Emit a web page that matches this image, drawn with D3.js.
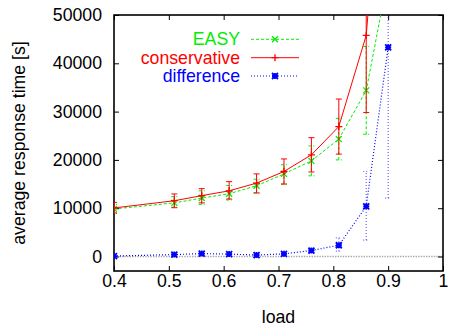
<!DOCTYPE html>
<html>
<head>
<meta charset="utf-8">
<script src="https://cdn.jsdelivr.net/npm/d3@7"></script>
<style>
  body { margin: 0; background: #fff; }
  svg text { font-family: "Liberation Sans", Arial, Helvetica, sans-serif; }
</style>
</head>
<body>
<svg id="chart" width="449" height="329"></svg>
<script>
// load values where the runs were measured
const loads = [0.40, 0.51, 0.56, 0.61, 0.66, 0.71, 0.76, 0.81, 0.86, 0.90];

// EASY backfilling
const easyMean = [9850, 11100, 12100, 13000, 14650, 17100, 19800, 24300, 34400, 58000];
const easyLow  = [8950, 10200, 10800, 11700, 13200, 15000, 16700, 20000, 25300, 51000];
const easyHigh = [10800, 12400, 13600, 14700, 16000, 19000, 22900, 28600, 43500, 65000];

// conservative backfilling
const consMean = [10050, 11550, 12600, 13600, 15200, 17600, 21050, 26900, 45800, 101000];
const consLow  = [9000, 10100, 11100, 11900, 13150, 15000, 17500, 21200, 29800, 75000];
const consHigh = [11200, 12950, 14050, 15500, 17100, 20200, 24600, 32600, 62000, 127000];

// difference between the two
const diffMean = [100, 400, 600, 500, 300, 550, 1240, 2330, 10400, 43300];
const diffLow  = [0, 200, 400, 300, 100, 300, 900, 1100, 3400, 12100];
const diffHigh = [200, 600, 800, 700, 500, 800, 1600, 3860, 17600, 75000];

const xTicks = [0.4, 0.5, 0.6, 0.7, 0.8, 0.9, 1.0];
const yTicks = [0, 10000, 20000, 30000, 40000, 50000];

const svg = d3.select("#chart");
const plot = { left: 114, right: 443, top: 15, bottom: 271 };

const x = d3.scaleLinear().domain([0.4, 1.0]).range([plot.left, plot.right]);
const y = d3.scaleLinear().domain([-3000, 50000]).range([plot.bottom, plot.top]);

const fontSize = 17.7;

svg.append("clipPath").attr("id", "clip")
    .append("rect")
    .attr("x", plot.left).attr("y", plot.top)
    .attr("width", plot.right - plot.left)
    .attr("height", plot.bottom - plot.top);

// zero axis, grey dotted
svg.append("line")
    .attr("x1", plot.left).attr("x2", plot.right)
    .attr("y1", y(0)).attr("y2", y(0))
    .attr("stroke", "#a8a8a8")
    .attr("stroke-width", 1.3)
    .attr("stroke-dasharray", "1.4,1.2");

// axes with inward ticks, mirrored on top and right
function styleAxis(g, labels) {
    g.select(".domain").remove();
    g.selectAll(".tick line").attr("stroke", "#000").attr("stroke-width", 1);
    if (!labels) g.selectAll(".tick text").remove();
    else g.selectAll(".tick text").attr("font-size", fontSize).attr("fill", "#000");
}

svg.append("g")
    .attr("transform", `translate(0,${plot.bottom})`)
    .call(d3.axisBottom(x).tickValues(xTicks).tickSizeInner(-5).tickPadding(5)
        .tickFormat(d => d3.format("")(+d.toFixed(1))))
    .call(g => styleAxis(g, true))
    .selectAll(".tick text").attr("dy", null).attr("y", 16.3);

svg.append("g")
    .attr("transform", `translate(0,${plot.top})`)
    .call(d3.axisTop(x).tickValues(xTicks).tickSizeInner(-5))
    .call(g => styleAxis(g, false));

svg.append("g")
    .attr("transform", `translate(${plot.left},0)`)
    .call(d3.axisLeft(y).tickValues(yTicks).tickSizeInner(-5).tickPadding(12).tickFormat(d3.format("d")))
    .call(g => styleAxis(g, true));

svg.append("g")
    .attr("transform", `translate(${plot.right},0)`)
    .call(d3.axisRight(y).tickValues(yTicks).tickSizeInner(-5))
    .call(g => styleAxis(g, false));

// frame
svg.append("rect")
    .attr("x", plot.left).attr("y", plot.top)
    .attr("width", plot.right - plot.left)
    .attr("height", plot.bottom - plot.top)
    .attr("fill", "none")
    .attr("stroke", "#000")
    .attr("stroke-width", 1.6);

// axis titles
svg.append("text")
    .text("load")
    .attr("x", (plot.left + plot.right) / 2)
    .attr("y", 323)
    .attr("text-anchor", "middle")
    .attr("font-size", fontSize);

svg.append("text")
    .text("average response time [s]")
    .attr("transform", `translate(25,${(plot.top + plot.bottom) / 2}) rotate(-90)`)
    .attr("text-anchor", "middle")
    .attr("font-size", fontSize);

// point markers
const markers = {
    cross: s => `M${-s},${-s}L${s},${s}M${-s},${s}L${s},${-s}`,
    plus: s => `M${-s},0L${s},0M0,${-s}L0,${s}`,
    star: s => `M${-s},0L${s},0M0,${-s}L0,${s}M${-s},${-s}L${s},${s}M${-s},${s}L${s},${-s}`
};

const series = [
    { name: "EASY", mean: easyMean, low: easyLow, high: easyHigh,
      color: "#00ee00", dash: "3,2", width: 1, marker: "cross", size: 3 },
    { name: "conservative", mean: consMean, low: consLow, high: consHigh,
      color: "#ff0000", dash: null, width: 1, marker: "plus", size: 3.5 },
    { name: "difference", mean: diffMean, low: diffLow, high: diffHigh,
      color: "#0000ff", dash: "1,2", width: 1.2, marker: "star", size: 3 }
];

const inner = svg.append("g").attr("clip-path", "url(#clip)");

series.forEach(s => {
    const g = inner.append("g");
    const line = d3.line().x((d, i) => x(loads[i])).y(d => y(d));

    // error bars
    loads.forEach((l, i) => {
        const cx = x(l);
        g.append("path")
            .attr("d", `M${cx},${y(s.low[i])}L${cx},${y(s.high[i])}` +
                `M${cx - 3},${y(s.low[i])}L${cx + 3},${y(s.low[i])}` +
                `M${cx - 3},${y(s.high[i])}L${cx + 3},${y(s.high[i])}`)
            .attr("fill", "none")
            .attr("stroke", s.color)
            .attr("stroke-opacity", s.name === "difference" ? 0.6 : 1)
            .attr("stroke-width", s.width)
            .attr("stroke-dasharray", s.dash);
    });

    g.append("path")
        .datum(s.mean)
        .attr("d", line)
        .attr("fill", "none")
        .attr("stroke", s.color)
        .attr("stroke-width", s.width)
        .attr("stroke-dasharray", s.dash);

    g.selectAll(".pt")
        .data(s.mean)
        .join("path")
        .attr("transform", (d, i) => `translate(${x(loads[i])},${y(d)})`)
        .attr("d", markers[s.marker](s.size))
        .attr("fill", "none")
        .attr("stroke", s.color)
        .attr("stroke-width", s.marker === "star" ? 1.8 : 1.3);
});

// legend
const legendY = [39.3, 57.7, 76];
series.forEach((s, i) => {
    const ly = legendY[i];
    svg.append("text")
        .text(s.name)
        .attr("x", 240)
        .attr("y", ly)
        .attr("dy", "0.35em")
        .attr("text-anchor", "end")
        .attr("font-size", fontSize)
        .attr("fill", s.color);
    svg.append("line")
        .attr("x1", 251).attr("x2", 299)
        .attr("y1", ly).attr("y2", ly)
        .attr("stroke", s.color)
        .attr("stroke-width", s.width)
        .attr("stroke-dasharray", s.dash);
    svg.append("path")
        .attr("transform", `translate(275,${ly})`)
        .attr("d", markers[s.marker](s.size))
        .attr("fill", "none")
        .attr("stroke", s.color)
        .attr("stroke-width", s.marker === "star" ? 1.8 : 1.3);
});
</script>
</body>
</html>
